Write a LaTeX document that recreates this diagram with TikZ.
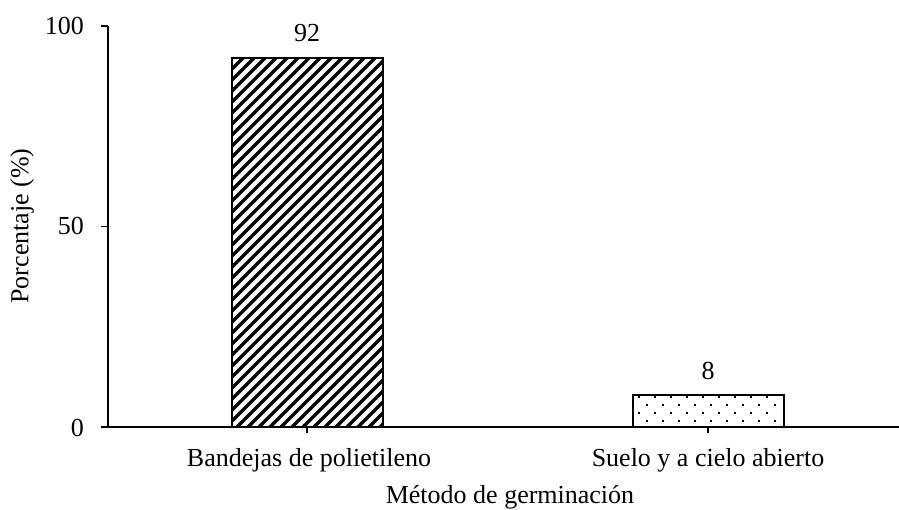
\documentclass[tikz,border=0pt]{standalone}
\usepackage{fontspec}
\setmainfont{Liberation Serif}
\begin{document}
\begin{tikzpicture}[x=1pt,y=-1pt,
  axis/.style={line width=1.6pt},
  barframe/.style={line width=2.2pt},
  hatchline/.style={line width=3.4pt},
  lbl/.style={inner sep=0pt,font=\fontsize{26}{30}\selectfont}]
\useasboundingbox (0,0) rectangle (899,510);
% bar 1 hatch
\begin{scope}
\clip (232,58) rectangle (383,427);
\foreach \i in {0,...,50}{
  \draw[hatchline] ({232-380+\i*11},427) -- ++(400,-400);
}
\end{scope}
\draw[barframe] (232,58) rectangle (383,427);
% bar 2 dots
\fill[white] (633,395) rectangle (784,427);
\begin{scope}
\clip (636,395) rectangle (780,427);
\foreach \r in {0,1,2,3}{
  \foreach \c in {0,...,9}{
    \pgfmathsetmacro{\xx}{638+\c*16+mod(\r,2)*8}
    \fill ({\xx},{398+\r*8}) rectangle ++(1.8,-1.8);
  }
}
\end{scope}
\draw[barframe] (633,395) rectangle (784,427);
% axes
\draw[axis] (108,26) -- (108,427);
\draw[axis] (107.2,427) -- (899,427);
\foreach \yy in {26,226.5,427}{\draw[axis] (101,\yy) -- (108,\yy);}
\foreach \xx in {307,708}{\draw[axis] (\xx,427) -- (\xx,433);}
% tick labels
\node[lbl,anchor=base east] (t100) at (84,35) {100};
\node[lbl,anchor=base east] (t50) at (84,235) {50};
\node[lbl,anchor=base east] (t0) at (84,436) {0};
% value labels
\node[lbl,anchor=base] (v1) at (307,42) {92};
\node[lbl,anchor=base] (v2) at (708,379) {8};
% category labels
\node[lbl,anchor=base] (c1) at (309,466) {Bandejas de polietileno};
\node[lbl,anchor=base] (c2) at (708,466) {Suelo y a cielo abierto};
\node[lbl,anchor=base] (xt) at (510,503) {Método de germinación};
\node[lbl,rotate=90] (yt) at (22,226) {Porcentaje (\%)};
\end{tikzpicture}
\end{document}
